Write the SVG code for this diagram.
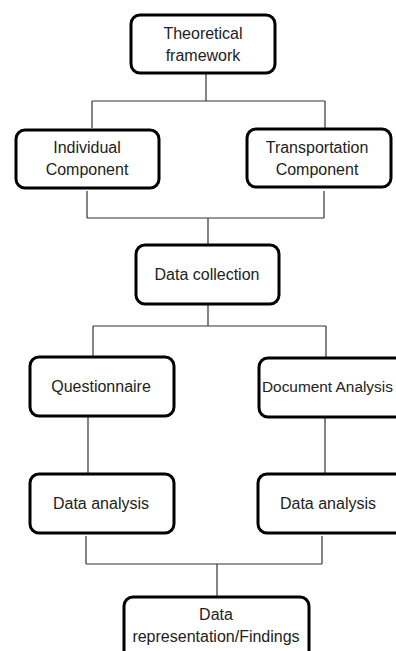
<svg xmlns="http://www.w3.org/2000/svg" width="396" height="651" viewBox="0 0 396 651">
<style>
.box{fill:#fff;stroke:#000;stroke-width:3}
.t{font-family:"Liberation Sans",Arial,sans-serif;font-size:16px;fill:#222;text-anchor:middle}
.c{fill:none;stroke:#333;stroke-width:1.2}
</style>
<rect width="396" height="651" fill="#fff"/>
<g id="connectors">
<path class="c" d="M206 73V101M92 101H325M92 101V128M325 101V128"/>
<path class="c" d="M87 191V218M324 191V218M87 218H324M208 218V244"/>
<path class="c" d="M208 304V326M93 326H326M93 326V356M326 326V357"/>
<path class="c" d="M88 416V473M325 417V473"/>
<path class="c" d="M86 536V564M322 536V564M86 564H322M217 564V596"/>
</g>
<g id="n1"><rect class="box" x="131" y="15" width="144" height="58" rx="9"/>
<text class="t" x="203" y="39">Theoretical</text><text class="t" x="203" y="61">framework</text></g>
<g id="n2"><rect class="box" x="16" y="130" width="143" height="58" rx="9"/>
<text class="t" x="87" y="153">Individual</text><text class="t" x="87" y="175">Component</text></g>
<g id="n3"><rect class="box" x="247" y="129" width="144" height="58" rx="9"/>
<text class="t" x="317" y="153">Transportation</text><text class="t" x="317" y="175">Component</text></g>
<g id="n4"><rect class="box" x="136" y="245" width="143" height="59" rx="9"/>
<text class="t" x="207" y="280">Data collection</text></g>
<g id="n5"><rect class="box" x="30" y="357" width="144" height="59" rx="9"/>
<text class="t" x="101" y="392">Questionnaire</text></g>
<g id="n6"><rect class="box" x="259" y="358" width="150" height="59" rx="9"/>
<text class="t" x="262" y="392" style="text-anchor:start;font-size:15.4px">Document Analysis</text></g>
<g id="n7"><rect class="box" x="30" y="474" width="144" height="59" rx="9"/>
<text class="t" x="101" y="509">Data analysis</text></g>
<g id="n8"><rect class="box" x="258" y="474" width="150" height="59" rx="9"/>
<text class="t" x="328" y="509">Data analysis</text></g>
<g id="n9"><rect class="box" x="124" y="597" width="185" height="70" rx="9"/>
<text class="t" x="216" y="620">Data</text><text class="t" x="216" y="642">representation/Findings</text></g>
</svg>
